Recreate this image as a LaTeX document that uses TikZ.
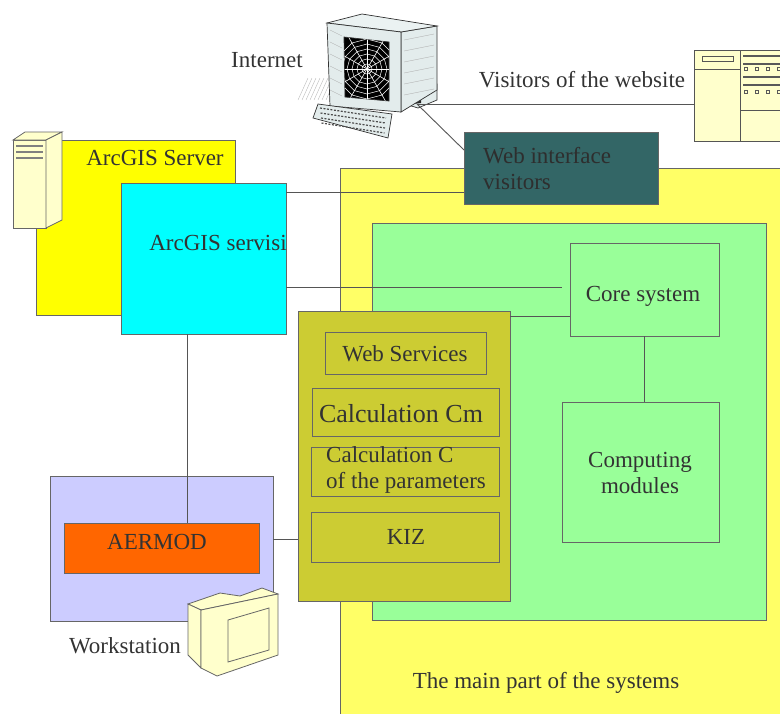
\documentclass[tikz,border=0pt]{standalone}
\usepackage{fontspec}
\setmainfont{Liberation Serif}
\usetikzlibrary{calc}
\definecolor{ink}{HTML}{333333}
\definecolor{edge}{HTML}{666666}
\definecolor{wirec}{HTML}{555555}
\definecolor{srvyellow}{HTML}{FFFF00}
\definecolor{mainyellow}{HTML}{FFFF66}
\definecolor{cyanbox}{HTML}{00FFFF}
\definecolor{greenbox}{HTML}{99FF99}
\definecolor{tealbox}{HTML}{336666}
\definecolor{olivebox}{HTML}{CCCC33}
\definecolor{lavender}{HTML}{CCCCFF}
\definecolor{orangebox}{HTML}{FF6600}
\definecolor{cream}{HTML}{FFFFCC}
\definecolor{pcgray}{HTML}{E3ECEC}
\begin{document}
\begin{tikzpicture}[x=1pt,y=-1pt,
  box/.style={draw=edge, line width=0.9pt, inner sep=0pt, outer sep=0pt,
              anchor=north west, rectangle},
  lbl/.style={text=ink, font=\fontsize{23}{26}\selectfont, inner sep=0pt, align=center},
  wire/.style={draw=wirec, line width=0.9pt},
  artline/.style={draw=edge, line width=0.8pt, fill=cream},
]
\useasboundingbox (0,0) rectangle (780,713);
\clip (0,0) rectangle (780,713);

% ---------- ArcGIS server group ----------
\node[box, fill=srvyellow, minimum width=199pt, minimum height=175pt] (server) at (36,140) {};
% server tower
\draw[artline] (13,140) -- (46,140) -- (46,228) -- (13,228) -- cycle;
\draw[artline] (13,140) -- (25,132) -- (62,132) -- (46,140) -- cycle;
\draw[artline] (46,140) -- (62,132) -- (62,220) -- (46,228) -- cycle;
\foreach \yy in {146,152,158} \draw[gray, line width=1.6pt] (16,\yy) -- (43,\yy);
\node[lbl] (serverlbl) at (155,158) {ArcGIS Server};

\node[box, fill=cyanbox, minimum width=165pt, minimum height=151pt] (servisi) at (121,183) {};
\node[lbl] (servisilbl) at (218,243) {ArcGIS servisi};

% ---------- main part ----------
\node[box, fill=mainyellow, minimum width=460pt, minimum height=560pt] (main) at (340,168) {};
\node[box, fill=greenbox, minimum width=394pt, minimum height=397pt] (green) at (372,223) {};
\node[box, fill=greenbox, minimum width=149pt, minimum height=93pt] (core) at (570,243) {};
\node[lbl] (corelbl) at (643,296) {Core system};
\node[box, fill=greenbox, minimum width=157pt, minimum height=140pt] (computing) at (562,402) {};
\node[lbl] (computinglbl) at (640,473) {Computing\\modules};
\node[lbl] (mainlbl) at (546,683) {The main part of the systems};

% web interface
\node[box, fill=tealbox, minimum width=194pt, minimum height=72pt] (webif) at (464,132) {};
\node[lbl, text=ink!90!black, align=left, anchor=west] (webiflbl) at (483,169) {Web interface\\visitors};

% services column
\node[box, fill=olivebox, minimum width=212pt, minimum height=290pt] (olive) at (298,311) {};
\node[box, fill=olivebox, minimum width=161pt, minimum height=42pt] (websvc) at (325,332) {};
\node[lbl] (websvclbl) at (405,354) {Web Services};
\node[box, fill=olivebox, minimum width=187pt, minimum height=48pt] (calccm) at (312,388) {};
\node[lbl, font=\fontsize{26}{28}\selectfont] (calccmlbl) at (401,414) {Calculation Cm};
\node[box, fill=olivebox, minimum width=188pt, minimum height=49pt] (calcc) at (311,447) {};
\node[lbl, align=left, anchor=west] (calcclbl) at (326,470) {Calculation C\\of the parameters};
\node[box, fill=olivebox, minimum width=188pt, minimum height=50pt] (kiz) at (311,512) {};
\node[lbl] (kizlbl) at (406,537) {KIZ};

% ---------- workstation ----------
\node[box, fill=lavender, minimum width=223pt, minimum height=145pt] (workstation) at (50,476) {};
\node[box, fill=orangebox, minimum width=195pt, minimum height=50pt] (aermod) at (64,523) {};
\node[lbl] (aermodlbl) at (157,542) {AERMOD};
\node[lbl] (workstationlbl) at (125,646) {Workstation};
% workstation monitor
\draw[artline] (188,604) -- (220,593) -- (240,596) -- (262,588) -- (278,594) -- (201,610) -- cycle;
\draw[artline] (188,604) -- (201,610) -- (201,668) -- (188,655) -- cycle;
\draw[artline] (201,610) -- (278,594) -- (278,655) -- (217,676) -- (201,668) -- cycle;
\draw[artline] (228,620) -- (269,608) -- (269,650) -- (228,662) -- cycle;

% ---------- internet computer ----------
\begin{scope}[draw=black!80, line width=0.7pt]
  \foreach \i in {0,...,7} \draw[gray!55, line width=0.4pt] (298+\i*4,100) -- (308+\i*4,78);
  \filldraw[fill=pcgray] (408,88) -- (437,84) -- (437,100) -- (418,108) -- (405,104) -- cycle;
  \fill[black!85] (412,88) -- (421,87) -- (421,103) -- (413,104) -- cycle;
  \filldraw[fill=pcgray] (401,32) -- (437,26) -- (437,90) -- (401,112) -- cycle;
  \filldraw[fill=pcgray!70!white] (327,23) -- (362,14) -- (437,26) -- (401,32) -- cycle;
  \filldraw[fill=pcgray] (327,23) -- (401,32) -- (401,112) -- (330,106) -- cycle;
  \foreach \i in {0,...,5} \draw[gray!60, line width=0.4pt] (330,30+\i*12) -- (342,36+\i*12);
  \foreach \i in {0,...,5} \draw[gray!60, line width=0.4pt] (404,40+\i*11) -- (434,34+\i*11);
  \filldraw[fill=black] (344,37) -- (389,42) -- (389,101) -- (345,97) -- cycle;
  \begin{scope}
    \clip (344,37) -- (389,42) -- (389,101) -- (345,97) -- cycle;
    \foreach \a in {0,30,...,330} \draw[white, line width=0.6pt] (367,69) -- ++(\a:40);
    \foreach \r in {5,10,15,20,25,30}
      \draw[white, line width=0.5pt] (367,69) ++(0:\r)
        \foreach \a in {30,60,...,360} { -- ($(367,69)+(\a:\r)$) };
  \end{scope}
  \filldraw[fill=pcgray] (318,104) -- (392,114) -- (388,138) -- (313,118) -- cycle;
  \foreach \k in {0,1,2,3} \draw[black!70, line width=1.2pt, dash pattern=on 2pt off 1.5pt]
     (320+\k*0.5,108+\k*5) -- (386-\k*0.5,118+\k*5);
\end{scope}
\coordinate (pc) at (417,104);
\node[lbl] (internetlbl) at (267,60) {Internet};

% ---------- website visitors screen ----------
\node[box, fill=cream, draw=wirec, minimum width=100pt, minimum height=91pt] (vscreen) at (694,50) {};
\draw[wirec, line width=0.8pt] (740,50) -- (740,141);
\draw[wirec, line width=0.8pt] (694,69) -- (740,69);
\draw[wirec, line width=0.8pt] (702,56) rectangle (733,61);
\foreach \yy in {56,64,77,85} \draw[black!65, line width=1.4pt] (743,\yy) -- (780,\yy);
\foreach \yy in {69,92} \foreach \xx in {746,757,768,779}
  \draw[black!65, line width=0.6pt] (\xx-1.3,\yy-1.3) rectangle (\xx+1.3,\yy+1.3);
\draw[wirec, line width=0.8pt] (740,110) -- (780,110);
\node[lbl] (visitorslbl) at (582,80) {Visitors of the website};

% ---------- connectors ----------
\draw[wire] (pc) -- (pc -| vscreen.west);
\draw[wire] (pc) -- ([yshift=-18pt]webif.north west);
\draw[wire] ([yshift=12pt]webif.south west) -- ([yshift=12pt]webif.south west -| servisi.east);
\draw[wire] ([yshift=47pt]servisi.south east) -- ([yshift=47pt,xshift=-8pt]servisi.south east -| core.west);
\draw[wire] ([yshift=-5pt]olive.north east) -- ([yshift=-5pt]olive.north east -| core.west);
\draw[wire] (core.south) -- (core.south |- computing.north);
\draw[wire] ([xshift=-16pt]servisi.south) -- ([xshift=-16pt]servisi.south |- aermod.north);
\draw[wire] ([yshift=9pt]workstation.east) -- ([yshift=9pt]workstation.east -| olive.west);
\end{tikzpicture}
\end{document}
